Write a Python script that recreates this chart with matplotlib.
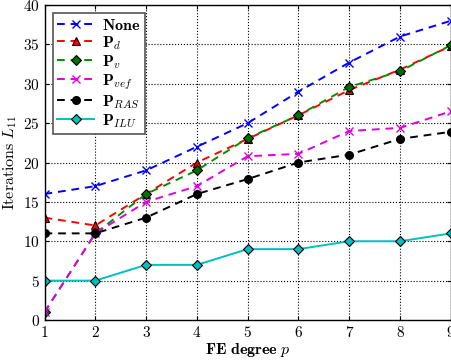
import matplotlib
matplotlib.use("Agg")
import matplotlib.pyplot as plt

plt.rcParams['font.family'] = 'serif'
plt.rcParams['font.serif'] = ['cmr10']
plt.rcParams['mathtext.fontset'] = 'cm'
plt.rcParams['axes.formatter.use_mathtext'] = True
plt.rcParams['axes.unicode_minus'] = False

p = [1, 2, 3, 4, 5, 6, 7, 8, 9]
none = [16, 17, 19, 22, 25, 29, 32.7, 36, 38]
p_d = [13, 12, 16, 20, 23, 26, 29.2, 31.8, 34.8]
p_v = [1, 11, 16, 19, 23.1, 26, 29.6, 31.6, 34.9]
p_vef = [1, 11, 15, 17, 20.8, 21.1, 24, 24.4, 26.5]
p_ras = [11, 11, 13, 16, 17.9, 20, 21, 23, 23.9]
p_ilu = [5, 5, 7, 7, 9, 9, 10, 10, 11]

labels = [r'$\mathbf{None}$', r'$\mathbf{P}_{d}$', r'$\mathbf{P}_{v}$',
          r'$\mathbf{P}_{vef}$', r'$\mathbf{P}_{RAS}$', r'$\mathbf{P}_{ILU}$']
xticks = [1, 2, 3, 4, 5, 6, 7, 8, 9]
yticks = [0, 5, 10, 15, 20, 25, 30, 35, 40]

fig = plt.figure(figsize=(4.52, 3.61), dpi=100)
ax = fig.add_axes([0.0985, 0.1136, 0.899, 0.8725])

lw = 1.4
dash = (4, 3)
ax.plot(p, none, '--', dashes=dash, color='blue', marker='x', ms=5.5, mew=1, lw=lw, label=labels[0])
ax.plot(p, p_d, '--', dashes=dash, color='red', marker='^', ms=5.5, mfc='red', mec='black', mew=0.8, lw=lw, label=labels[1])
ax.plot(p, p_v, '--', dashes=dash, color='#009000', marker='D', ms=5, mfc='#007000', mec='black', mew=0.8, lw=lw, label=labels[2])
ax.plot(p, p_vef, '--', dashes=dash, color='#e000e0', marker='x', ms=5.5, mew=1, lw=lw, label=labels[3])
ax.plot(p, p_ras, '--', dashes=dash, color='black', marker='o', ms=5.5, mfc='black', mec='black', lw=lw, label=labels[4])
ax.plot(p, p_ilu, '-', color='#00c0c0', marker='D', ms=5, mfc='#00c0c0', mec='black', mew=0.8, lw=lw, label=labels[5])

ax.set_xlim(1, 9)
ax.set_ylim(0, 40)
ax.set_xticks(xticks)
ax.set_yticks(yticks)
ax.tick_params(direction='in', top=True, right=True, labelsize=11, length=3)
ax.grid(True, linestyle=':', color='black', lw=0.8)
for s in ax.spines.values():
    s.set_linewidth(1.0)

ax.set_xlabel(r'$\mathbf{FE\ degree}\ p$', fontsize=11.5, labelpad=1)
ax.set_ylabel(r'$\mathrm{Iterations}\ L_{11}$', fontsize=11.5, labelpad=3)

leg = ax.legend(loc='upper left', fancybox=False, edgecolor='#555555', fontsize=11.5,
                framealpha=1, borderaxespad=0.5, handlelength=2.3, labelspacing=0.08,
                borderpad=0.3, handletextpad=0.5)
leg.get_frame().set_linewidth(1.2)

fig.savefig('out.png', dpi=100)
